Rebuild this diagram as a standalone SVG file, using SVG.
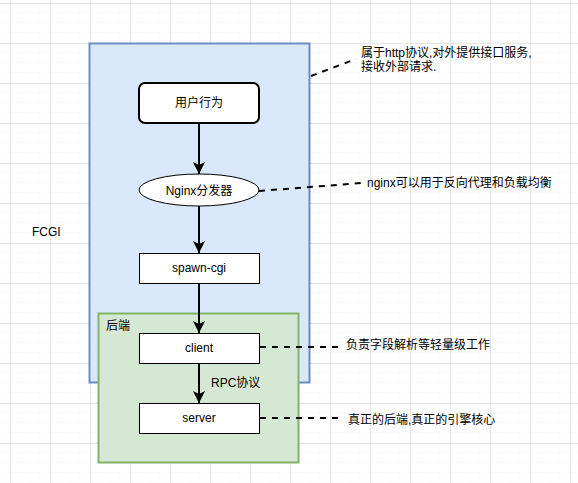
<svg xmlns="http://www.w3.org/2000/svg" width="578" height="483" viewBox="0 0 578 483">
<defs>
<pattern id="minor" x="0" y="3" width="10" height="10" patternUnits="userSpaceOnUse">
<path d="M10 0V10M0 10H10" fill="none" stroke="#f6f6f6" stroke-width="1"/>
</pattern>
<pattern id="major" x="10" y="3" width="40" height="40" patternUnits="userSpaceOnUse">
<path d="M0.5 0V40M0 0.5H40" fill="none" stroke="#e6e6e6" stroke-width="1"/>
</pattern>
<marker id="arr" markerUnits="userSpaceOnUse" markerWidth="14" markerHeight="14" refX="12" refY="6" orient="auto">
<path d="M0 0L12 6L0 12L3 6Z" fill="#000"/>
</marker>
<style>
text{font-family:"Liberation Sans","Noto Sans CJK SC",sans-serif;font-size:12px;fill:#000}
.c{text-anchor:middle;dominant-baseline:central}
.l{dominant-baseline:central}
.box{fill:#fff;stroke:#000;stroke-width:1}
.flow{stroke:#000;stroke-width:2;fill:none;marker-end:url(#arr)}
.dash{stroke:#000;stroke-width:2;fill:none;stroke-dasharray:6 6}
</style>
</defs>
<rect width="578" height="483" fill="#fff"/>
<rect width="578" height="483" fill="url(#minor)"/>
<rect width="578" height="483" fill="url(#major)"/>

<g id="fcgi">
<rect x="89.5" y="43.5" width="220" height="339" fill="#dae8fc" stroke="#6c8ebf" stroke-width="2"/>
</g>
<g id="backend">
<rect x="98.5" y="313.5" width="200" height="149" fill="#d5e8d4" stroke="#82b366" stroke-width="2"/>
<text x="106" y="326" class="l">后端</text>
</g>
<g id="fcgi-label"><text x="32" y="232" class="l">FCGI</text></g>

<g id="user">
<rect x="139" y="83" width="120" height="40" rx="6" fill="#fff" stroke="#000" stroke-width="2"/>
<text x="199" y="103" class="c">用户行为</text>
</g>
<g id="nginx">
<ellipse cx="199" cy="190" rx="60" ry="16" fill="#fff" stroke="#000" stroke-width="1"/>
<text x="199" y="191" class="c">Nginx分发器</text>
</g>
<g id="spawn">
<rect x="139.5" y="253.5" width="120" height="30" class="box"/>
<text x="199" y="268" class="c">spawn-cgi</text>
</g>
<g id="client">
<rect x="139.5" y="333.5" width="120" height="30" class="box"/>
<text x="199" y="348" class="c">client</text>
</g>
<g id="server">
<rect x="139.5" y="403.5" width="120" height="30" class="box"/>
<text x="199" y="418" class="c">server</text>
</g>

<g id="connectors">
<path d="M199 123V174" class="flow"/>
<path d="M199 206V253" class="flow"/>
<path d="M199 283V333" class="flow"/>
<path d="M199 363V403" class="flow"/>
<text x="211" y="383" class="l">RPC协议</text>
<path d="M311 76L356 59" class="dash"/>
<path d="M259 191L362 183" class="dash"/>
<path d="M260 347H340" class="dash"/>
<path d="M260 418H340" class="dash"/>
</g>

<g id="notes">
<text x="361" y="53" class="l">属于http协议,对外提供接口服务,</text>
<text x="361" y="67" class="l">接收外部请求.</text>
<text x="367" y="183" class="l">nginx可以用于反向代理和负载均衡</text>
<text x="346" y="345" class="l">负责字段解析等轻量级工作</text>
<text x="348" y="420" class="l">真正的后端,真正的引擎核心</text>
</g>
</svg>
